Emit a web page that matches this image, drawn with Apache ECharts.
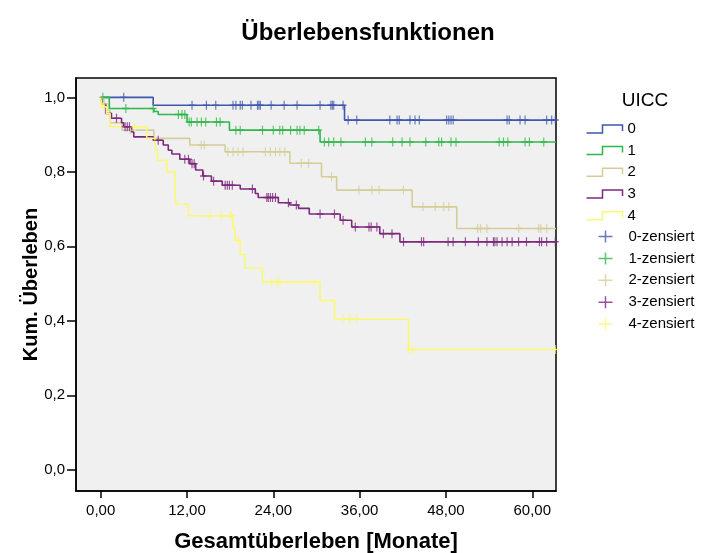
<!DOCTYPE html>
<html><head><meta charset="utf-8">
<script src="https://cdn.jsdelivr.net/npm/echarts@6/dist/echarts.min.js"></script>
<style>html,body{margin:0;padding:0;background:#fff}#c{width:704px;height:553px}</style>
</head><body><div id="c"></div>
<script>
// ---- data (months, cumulative survival) ----
const groupNames = ['0', '1', '2', '3', '4'];
const censorNames = ['0-zensiert', '1-zensiert', '2-zensiert', '3-zensiert', '4-zensiert'];
const groupColors = ['#3e58ac', '#2eb848', '#d3ce97', '#7c287d', '#fbf873'];
const xTicks = [0, 12, 24, 36, 48, 60];
const yTicks = [0, 0.2, 0.4, 0.6, 0.8, 1.0];
const followUpEnd = 63.3;

const times0 = [0, 7.3, 33.9];
const surv0 = [1.0, 0.979, 0.939];
const cens0 = [3.2, 12.7, 14.7, 16.0, 18.4, 18.8, 19.4, 19.7, 20.9, 21.8, 22.0, 22.2, 23.7, 25.5, 27.3, 30.5, 32.0, 32.2, 32.4, 33.7,
  34.4, 35.6, 40.2, 41.2, 41.5, 43.0, 43.7, 44.3, 48.1, 48.4, 48.7, 49.0, 56.5, 56.8, 58.3, 59.0, 62.0, 62.7, 63.2];

const times1 = [0, 1.2, 7.4, 8.0, 12.0, 17.9, 30.5];
const surv1 = [1.0, 0.970, 0.962, 0.954, 0.934, 0.912, 0.880];
const cens1 = [0.3, 3.5, 7.3, 10.8, 11.3, 11.7, 12.3, 12.6, 13.4, 14.0, 14.6, 16.1, 16.6, 18.8, 19.4, 22.5, 24.0, 24.9, 25.3, 26.4,
  27.3, 27.7, 28.3, 30.3, 31.1, 31.7, 32.4, 33.4, 36.8, 37.7, 40.6, 41.9, 43.0, 45.2, 47.0, 47.4, 48.7, 49.4, 55.4, 56.0, 56.6, 59.0, 59.6, 61.6];

const times2 = [0, 0.3, 0.8, 1.3, 3.0, 7.4, 12.4, 17.3, 26.3, 30.7, 32.8, 43.3, 49.5];
const surv2 = [1.0, 0.983, 0.966, 0.932, 0.912, 0.890, 0.872, 0.854, 0.823, 0.787, 0.751, 0.706, 0.648];
const cens2 = [0.5, 4.1, 14.0, 14.4, 17.7, 18.4, 19.1, 19.8, 22.9, 23.6, 24.3, 24.9, 25.6, 27.9, 28.9, 32.1, 35.9, 37.7, 38.7, 42.1,
  44.8, 46.5, 47.7, 48.4, 52.4, 52.8, 53.7, 58.1, 60.9, 61.2, 62.0];

const times3 = [0, 0.2, 0.7, 1.5, 2.9, 3.2, 4.3, 4.6, 7.3, 8.7, 9.4, 9.9, 11.0, 12.4, 13.2, 14.2, 15.4, 16.9, 19.4, 21.5, 21.9, 24.7,
  26.3, 27.5, 29.0, 33.3, 34.9, 38.8, 41.6];
const surv3 = [1.0, 0.983, 0.957, 0.944, 0.932, 0.921, 0.907, 0.894, 0.885, 0.872, 0.858, 0.848, 0.834, 0.822, 0.805, 0.789, 0.775, 0.764,
  0.754, 0.742, 0.731, 0.717, 0.711, 0.702, 0.687, 0.670, 0.652, 0.634, 0.612];
const cens3 = [2.2, 3.4, 3.7, 4.0, 8.0, 11.7, 12.2, 12.7, 13.0, 14.3, 15.7, 17.3, 17.6, 17.9, 18.3, 21.1, 23.1, 23.3, 23.6, 23.9, 24.3,
  26.1, 27.2, 30.5, 32.5, 33.7, 35.4, 37.3, 37.6, 38.4, 39.3, 40.5, 42.1, 44.6, 44.9, 48.3, 49.0, 50.7, 52.5, 53.7, 54.6, 54.8, 55.1,
  55.8, 56.5, 57.2, 58.1, 59.2, 61.0, 61.3, 62.0, 63.2];

const times4 = [0, 0.2, 0.8, 1.3, 6.4, 7.6, 7.9, 9.2, 10.3, 10.5, 12.2, 18.4, 18.7, 19.4, 20.1, 22.5, 30.5, 32.5, 42.8];
const surv4 = [1.0, 0.975, 0.957, 0.921, 0.890, 0.858, 0.831, 0.800, 0.742, 0.713, 0.682, 0.648, 0.616, 0.578, 0.542, 0.504, 0.455, 0.404, 0.323];
const cens4 = [0.4, 4.8, 15.2, 16.8, 18.0, 18.2, 19.1, 23.8, 24.6, 24.9, 29.7, 33.7, 34.6, 35.6, 42.9, 43.3, 63.2];

// ---- build ----
const allTimes = [times0, times1, times2, times3, times4];
const allSurv = [surv0, surv1, surv2, surv3, surv4];
const allCens = [cens0, cens1, cens2, cens3, cens4];

function survAt(ts, ss, t) {
  let v = ss[0];
  for (let i = 0; i < ts.length; i++) { if (ts[i] <= t) v = ss[i]; }
  return v;
}
const FONT = "'Liberation Sans', Arial, Helvetica, sans-serif";
const stepIcon = 'path://M0,8 L16,8 L16,0 L36,0 L36,6';
const plusIcon = 'path://M0,6 L14,6 M7,0 L7,12';
const markSym = 'path://M0,5 L10,5 M5,0 L5,10';

const series = [];
const lineLegend = [];
const censLegend = [];
groupNames.forEach((g, i) => {
  const pts = allTimes[i].map((t, k) => [t, allSurv[i][k]]);
  pts.push([followUpEnd, allSurv[i][allSurv[i].length - 1]]);
  series.push({
    name: g, type: 'line', step: 'end', data: pts, showSymbol: false, symbol: 'none',
    lineStyle: { color: groupColors[i], width: 1.6 }, itemStyle: { color: groupColors[i] },
    silent: true, animation: false, z: 2 + i
  });
  lineLegend.push({ name: g, icon: stepIcon, itemStyle: { color: 'none', borderColor: groupColors[i], borderWidth: 1.5 } });
});
groupNames.forEach((g, i) => {
  series.push({
    name: censorNames[i], type: 'scatter',
    data: allCens[i].map(t => [t, survAt(allTimes[i], allSurv[i], t)]),
    symbol: markSym, symbolSize: [7, 9],
    itemStyle: { color: 'none', borderColor: groupColors[i], borderWidth: 1.3 },
    silent: true, animation: false, z: 3 + i
  });
  censLegend.push({ name: censorNames[i], icon: plusIcon, itemStyle: { color: 'none', borderColor: groupColors[i], borderWidth: 1.5 } });
});

const legendBase = {
  orient: 'vertical', padding: 0, itemWidth: 36, itemHeight: 12,
  selectedMode: false, symbolKeepAspect: true,
  textStyle: { fontFamily: FONT, fontSize: 15, lineHeight: 14, color: '#000' }
};

const chart = echarts.init(document.getElementById('c'), null, { renderer: 'canvas' });
chart.setOption({
  animation: false,
  backgroundColor: '#ffffff',
  title: [
    { text: 'Überlebensfunktionen', left: 363, top: 16, textAlign: 'center',
      textStyle: { fontFamily: FONT, fontSize: 24, fontWeight: 'bold', color: '#000' } },
    { text: 'UICC', left: 640, top: 86, textAlign: 'center',
      textStyle: { fontFamily: FONT, fontSize: 19, fontWeight: 'normal', color: '#000' } }
  ],
  legend: [
    Object.assign({}, legendBase, { left: 584, top: 121.4, itemGap: 6.7, data: lineLegend }),
    Object.assign({}, legendBase, { left: 596, top: 228, itemGap: 4.9, data: censLegend })
  ],
  grid: { left: 76, right: 148, top: 78, bottom: 62, show: true, backgroundColor: '#f0f0f0',
    borderColor: '#000', borderWidth: 1.5, containLabel: false, outerBoundsMode: 'none' },
  xAxis: {
    type: 'value', min: -3.43, max: 63.3,
    name: 'Gesamtüberleben [Monate]', nameLocation: 'middle', nameGap: 40,
    nameTextStyle: { fontFamily: FONT, fontSize: 22, fontWeight: 'bold', color: '#000' },
    axisLine: { show: true, onZero: false, lineStyle: { color: '#000', width: 1.5 } },
    axisTick: { show: true, length: 7, customValues: xTicks, lineStyle: { color: '#000', width: 1.5 } },
    axisLabel: { customValues: xTicks, margin: 12, fontFamily: FONT, fontSize: 15, color: '#000',
      formatter: v => v.toFixed(2).replace('.', ',') },
    splitLine: { show: false }
  },
  yAxis: {
    type: 'value', min: -0.057, max: 1.052,
    name: 'Kum. Überleben', nameLocation: 'middle', nameGap: 35, nameRotate: 90, nameMoveOverlap: false,
    nameTextStyle: { fontFamily: FONT, fontSize: 20, fontWeight: 'bold', color: '#000' },
    axisLine: { show: true, onZero: false, lineStyle: { color: '#000', width: 1.5 } },
    axisTick: { show: true, length: 9, customValues: yTicks, lineStyle: { color: '#000', width: 1.5 } },
    axisLabel: { customValues: yTicks, margin: 11, fontFamily: FONT, fontSize: 15, color: '#000',
      formatter: v => v.toFixed(1).replace('.', ',') },
    splitLine: { show: false }
  },
  series: series
});
</script>
</body></html>
